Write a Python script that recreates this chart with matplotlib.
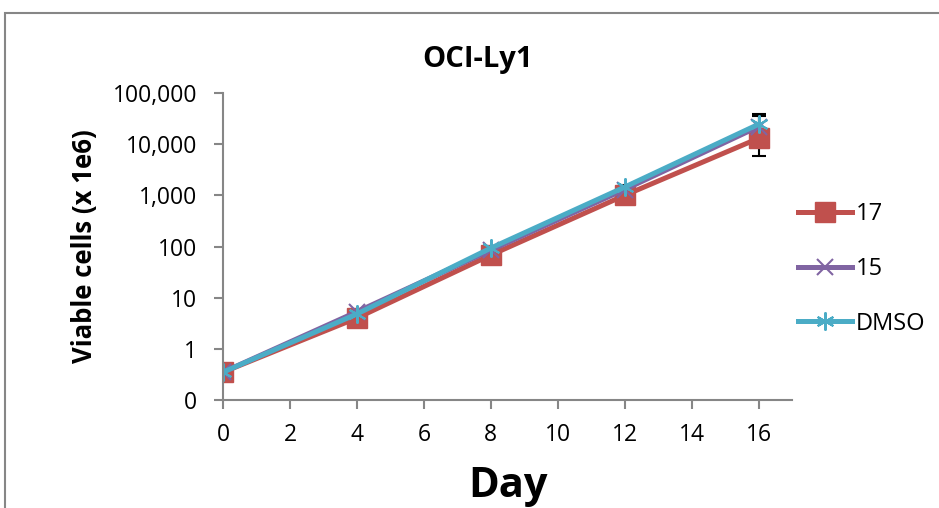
import matplotlib
matplotlib.use("Agg")
import matplotlib.pyplot as plt
from matplotlib.patches import Rectangle
from matplotlib.ticker import FixedLocator, FixedFormatter, NullLocator

#====== DATA ======================================
days = [0, 4, 8, 12, 16]

cells_17 = [0.35, 4.0, 68, 1000, 13000]
cells_15 = [0.35, 5.3, 85, 1300, 22000]
cells_dmso = [0.35, 4.8, 93, 1450, 24500]

err_17 = [0.0, 0.3, 5, 80, 7000]
err_15 = [0.0, 0.5, 6, 100, 13000]
err_dmso = [0.0, 0.4, 7, 110, 15000]

y_ticks = [0.1, 1, 10, 100, 1000, 10000, 100000]
y_tick_labels = ["0", "1", "10", "100", "1,000", "10,000", "100,000"]
x_ticks = [0, 2, 4, 6, 8, 10, 12, 14, 16]

RED = "#C0504D"
PURPLE = "#8064A2"
CYAN = "#4BACC6"
GRID_GREY = "#868686"

plt.rcParams["font.family"] = ["Open Sans", "DejaVu Sans"]

fig = plt.figure(figsize=(9.39, 5.08), dpi=100)

# chart-area border like the Excel frame
fig.patches.append(Rectangle((5 / 939, -0.1), 1.2, 1 - 13 / 508 + 0.1,
                             transform=fig.transFigure, fill=False,
                             edgecolor=GRID_GREY, linewidth=1.5))

ax = fig.add_axes([223 / 939, 1 - 400 / 508, (792 - 223) / 939, (400 - 93) / 508])

line_kw = dict(linewidth=3.6, capsize=5, ecolor="black", elinewidth=1.5, capthick=1.5)
ax.errorbar(days, cells_17, yerr=err_17, color=RED, marker="s", markersize=14,
            label="17", **line_kw)
ax.errorbar(days, cells_15, yerr=err_15, color=PURPLE, marker="x", markersize=11,
            markeredgewidth=1.5, label="15", **line_kw)
ax.errorbar(days, cells_dmso, yerr=err_dmso, color=CYAN, marker=(6, 2, 0), markersize=13,
            markeredgewidth=1.5, label="DMSO", **line_kw)

ax.set_yscale("log")
ax.set_ylim(0.1, 100000)
ax.set_xlim(0, 17)
ax.yaxis.set_major_locator(FixedLocator(y_ticks))
ax.yaxis.set_major_formatter(FixedFormatter(y_tick_labels))
ax.yaxis.set_minor_locator(NullLocator())
ax.set_xticks(x_ticks)

for side in ("top", "right"):
    ax.spines[side].set_visible(False)
for side in ("left", "bottom"):
    ax.spines[side].set_color(GRID_GREY)
    ax.spines[side].set_linewidth(1.5)

ax.tick_params(axis="both", direction="out", length=6.5, width=1.5, color=GRID_GREY,
               labelsize=16.5)
ax.tick_params(axis="y", pad=12)
ax.tick_params(axis="x", pad=10)

# title sits over the whole chart area, not the plot area
fig.text(478 / 939, 1 - 60 / 508, "OCI-Ly1", fontsize=21, fontweight="bold",
         ha="center", va="center")
ax.set_ylabel("Viable cells (x 1e6)", fontsize=18.5, fontweight="bold", labelpad=11)
ax.set_xlabel("Day", fontsize=30, fontweight="bold", labelpad=14)

handles, labels = ax.get_legend_handles_labels()
handles = [h[0] for h in handles]
fig.legend(handles, labels, loc="center left", bbox_to_anchor=(786 / 939, 1 - 269 / 508),
           frameon=False, fontsize=17, handlelength=2.3, handletextpad=0.15,
           labelspacing=1.3, borderpad=0)

fig.savefig("out.png", dpi=100)
